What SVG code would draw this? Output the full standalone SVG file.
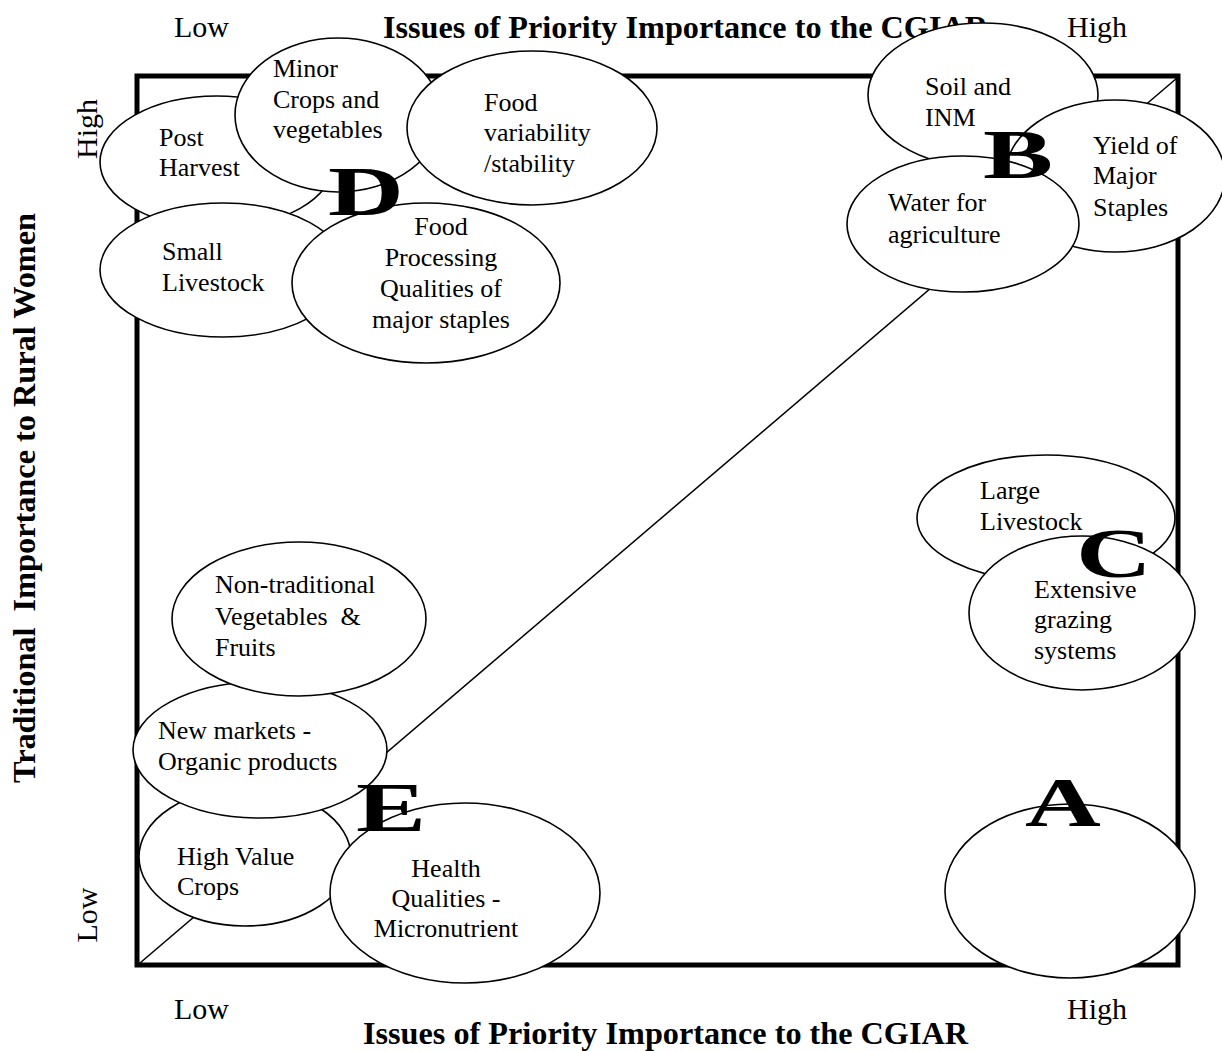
<svg xmlns="http://www.w3.org/2000/svg" width="1222" height="1051" viewBox="0 0 1222 1051">
<style>
.bg{fill:#fff}
.frame{fill:none;stroke:#000;stroke-width:5}
.diag{stroke:#000;stroke-width:1.5;fill:none}
.el{fill:#fff;stroke:#000;stroke-width:1.6}
.t{font-family:"Liberation Serif","Times New Roman",serif;font-size:26px;fill:#000}
.c{text-anchor:middle}
.ax{font-family:"Liberation Serif","Times New Roman",serif;font-size:30px;fill:#000}
.ttl{font-family:"Liberation Serif","Times New Roman",serif;font-size:32px;font-weight:bold;fill:#000}
.big{font-family:"Liberation Serif","Times New Roman",serif;font-size:70px;font-weight:bold;fill:#000;text-anchor:middle}
</style>
<rect class="bg" x="0" y="0" width="1222" height="1051"/>
<g id="axes">
<rect class="frame" x="137" y="76" width="1041" height="889"/>
<text class="ax" x="174" y="37">Low</text>
<text class="ax" x="1067" y="37">High</text>
<text class="ttl" x="383" y="38" textLength="605" lengthAdjust="spacingAndGlyphs">Issues of Priority Importance to the CGIAR</text>
<text class="ax" x="174" y="1019">Low</text>
<text class="ax" x="1067" y="1019">High</text>
<text class="ttl" x="363" y="1044" textLength="605" lengthAdjust="spacingAndGlyphs">Issues of Priority Importance to the CGIAR</text>
<text class="ax c" transform="translate(97,129) rotate(-90)">High</text>
<text class="ax c" transform="translate(97,915) rotate(-90)">Low</text>
<text class="ttl c" transform="translate(35,498) rotate(-90)" textLength="570" lengthAdjust="spacingAndGlyphs" xml:space="preserve">Traditional  Importance to Rural Women</text>
</g>
<g id="connectors">
<line class="diag" x1="140" y1="963" x2="1177" y2="78"/>
</g>
<g id="post-harvest"><ellipse class="el" cx="217" cy="162" rx="117" ry="66"/><text class="t" x="159" y="146">Post</text><text class="t" x="159" y="176">Harvest</text></g>
<g id="small-livestock"><ellipse class="el" cx="223" cy="270" rx="123" ry="67"/><text class="t" x="162" y="260">Small</text><text class="t" x="162" y="291">Livestock</text></g>
<g id="minor-crops"><ellipse class="el" cx="338" cy="115" rx="103" ry="77"/><text class="t" x="273" y="77">Minor</text><text class="t" x="273" y="108">Crops and</text><text class="t" x="273" y="138">vegetables</text></g>
<g id="food-processing"><ellipse class="el" cx="426" cy="283" rx="134" ry="80"/><text class="t c" x="441" y="235">Food</text><text class="t c" x="441" y="266">Processing</text><text class="t c" x="441" y="297">Qualities of</text><text class="t c" x="441" y="328">major staples</text></g>
<g id="food-variability"><ellipse class="el" cx="532" cy="128" rx="125" ry="77"/><text class="t" x="484" y="111">Food</text><text class="t" x="484" y="141">variability</text><text class="t" x="484" y="172">/stability</text></g>
<g id="soil-inm"><ellipse class="el" cx="983" cy="95" rx="115" ry="72"/><text class="t" x="925" y="95">Soil and</text><text class="t" x="925" y="126">INM</text></g>
<g id="yield-staples"><ellipse class="el" cx="1115" cy="176" rx="110" ry="76"/><text class="t" x="1093" y="154">Yield of</text><text class="t" x="1093" y="184">Major</text><text class="t" x="1093" y="216">Staples</text></g>
<g id="water-agriculture"><ellipse class="el" cx="963" cy="224" rx="116" ry="68"/><text class="t" x="888" y="211">Water for</text><text class="t" x="888" y="243">agriculture</text></g>
<g id="large-livestock"><ellipse class="el" cx="1046" cy="518" rx="129" ry="63"/><text class="t" x="980" y="499">Large</text><text class="t" x="980" y="530">Livestock</text></g>
<g id="extensive-grazing"><ellipse class="el" cx="1082" cy="613" rx="113" ry="77"/><text class="t" x="1034" y="598">Extensive</text><text class="t" x="1034" y="628">grazing</text><text class="t" x="1034" y="659">systems</text></g>
<g id="high-value-crops"><ellipse class="el" cx="245" cy="857" rx="106" ry="69"/><text class="t" x="177" y="865">High Value</text><text class="t" x="177" y="895">Crops</text></g>
<g id="new-markets"><ellipse class="el" cx="260" cy="750" rx="127" ry="68"/><text class="t" x="158" y="739">New markets -</text><text class="t" x="158" y="770">Organic products</text></g>
<g id="non-traditional"><ellipse class="el" cx="299" cy="619" rx="127" ry="77"/><text class="t" x="215" y="593">Non-traditional</text><text class="t" x="215" y="625" xml:space="preserve">Vegetables  &amp;</text><text class="t" x="215" y="656">Fruits</text></g>
<g id="health-qualities"><ellipse class="el" cx="465" cy="893" rx="135" ry="90"/><text class="t c" x="446" y="877">Health</text><text class="t c" x="446" y="907">Qualities -</text><text class="t c" x="446" y="937">Micronutrient</text></g>
<g id="a-ellipse"><ellipse class="el" cx="1070" cy="891" rx="125" ry="87"/></g>
<g id="letters">
<text class="big" transform="translate(1063,826) scale(1.5,1)">A</text>
<text class="big" transform="translate(1018,178) scale(1.5,1)">B</text>
<text class="big" transform="translate(1114,577) scale(1.5,1)">C</text>
<text class="big" transform="translate(366,215) scale(1.5,1)">D</text>
<text class="big" transform="translate(391,831) scale(1.5,1)">E</text>
</g>
</svg>
